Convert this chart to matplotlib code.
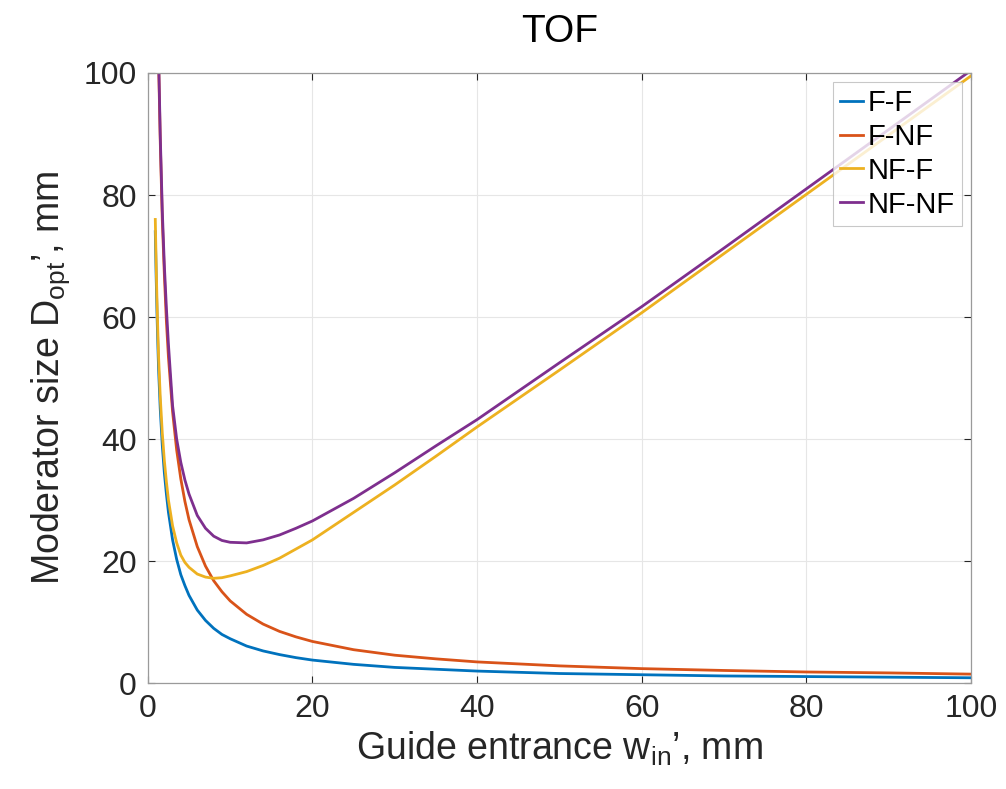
import matplotlib
matplotlib.use('Agg')
import matplotlib.pyplot as plt

plt.rcParams['font.family'] = ['Liberation Sans', 'DejaVu Sans']
plt.rcParams['mathtext.fontset'] = 'custom'
plt.rcParams['mathtext.rm'] = 'Liberation Sans'
plt.rcParams['mathtext.it'] = 'Liberation Sans'

# guide entrance w_in, mm
w_in = [0.9, 1, 1.1, 1.2, 1.3, 1.5, 1.75, 2, 2.25, 2.5, 3, 3.5, 4, 4.5, 5, 6,
        7, 8, 9, 10, 12, 14, 16, 18, 20, 25, 30, 35, 40, 50, 60, 70, 80, 90,
        100]

# optimal moderator size, mm
ff = [74, 67, 61, 56, 51.5, 45, 39, 34.5, 31, 28, 23.5, 20.3, 17.8, 16.0,
      14.4, 12.0, 10.3, 9.0, 8.0, 7.3, 6.1, 5.3, 4.7, 4.2, 3.8, 3.1, 2.6, 2.3,
      2.0, 1.6, 1.4, 1.2, 1.1, 1.0, 0.9]
fnf = [148, 133, 121, 111, 102, 89, 76, 67, 59.3, 53.4, 44.5, 38.2, 33.5,
       29.8, 26.8, 22.4, 19.2, 16.8, 15.0, 13.5, 11.3, 9.7, 8.5, 7.6, 6.85,
       5.5, 4.6, 4.0, 3.5, 2.85, 2.4, 2.1, 1.85, 1.7, 1.5]
nff = [76, 69, 63, 58, 53.5, 47, 41, 36.5, 33, 30, 25.8, 23.0, 21, 19.8, 19,
       17.9, 17.4, 17.2, 17.3, 17.6, 18.3, 19.3, 20.5, 22.0, 23.5, 28, 32.5,
       37.2, 42, 51.3, 60.7, 70.4, 80.1, 89.8, 99.5]
nfnf = [149, 134, 122, 112, 103, 90, 77.5, 68.5, 61.5, 55.5, 45.5, 40.0, 36.2,
        33.3, 31.0, 27.5, 25.4, 24.1, 23.4, 23.1, 23.0, 23.5, 24.3, 25.4, 26.6,
        30.3, 34.5, 38.9, 43.2, 52.5, 61.7, 71.3, 81.0, 90.7, 100.4]

labels = ['F-F', 'F-NF', 'NF-F', 'NF-NF']
colors = ['#0072BD', '#D95319', '#EDB120', '#7E2F8E']

fig = plt.figure(figsize=(10.06, 7.89), dpi=100)
ax = fig.add_axes([0.147, 0.134, 0.818, 0.7735])

for ys, lab, c in zip([ff, fnf, nff, nfnf], labels, colors):
    ax.plot(w_in, ys, color=c, lw=2, label=lab)

ax.set_xlim(0, 100)
ax.set_ylim(0, 100)
ax.set_xticks([0, 20, 40, 60, 80, 100])
ax.set_yticks([0, 20, 40, 60, 80, 100])
ax.grid(True, color='#e6e6e6', lw=0.8)
ax.set_axisbelow(True)
ax.tick_params(direction='in', top=True, right=True, labelsize=23,
               colors='#262626', length=5, pad=8)
for s in ax.spines.values():
    s.set_color('#9a9a9a')
    s.set_linewidth(0.9)

ax.set_title('TOF', fontsize=28, pad=22)
ax.set_xlabel('Guide entrance w$_{\\mathrm{in}}$\u2019, mm', fontsize=27,
              color='#262626', labelpad=4)
ax.set_ylabel('Moderator size D$_{\\mathrm{opt}}$\u2019, mm', fontsize=27,
              color='#262626', labelpad=8)

leg = ax.legend(loc='upper right', fontsize=21, handlelength=0.8,
                handletextpad=0.15, borderpad=0.25, labelspacing=0.2,
                fancybox=False, borderaxespad=0.3)
leg.get_frame().set_edgecolor('#bbbbbb')
leg.get_frame().set_linewidth(0.8)

fig.savefig('out.png', dpi=100)
